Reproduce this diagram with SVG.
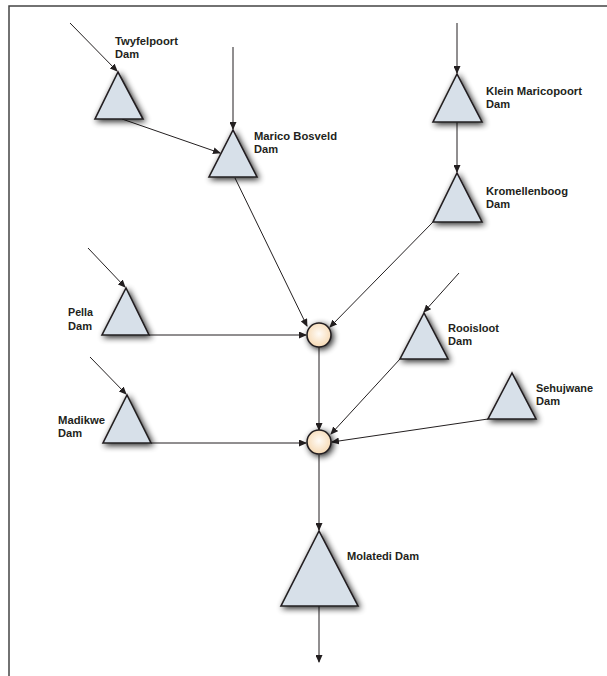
<svg xmlns="http://www.w3.org/2000/svg" width="607" height="676" viewBox="0 0 607 676">
<defs>
<style>
.tri{fill:#d7e0e9;stroke:#231f20;stroke-width:1.6;stroke-linejoin:miter;filter:url(#sh)}
.node{fill:url(#cg);stroke:#231f20;stroke-width:1.6;filter:url(#sh)}
.lbl{font-family:"Liberation Sans",Arial,sans-serif;font-weight:bold;font-size:11.5px;fill:#231f20}
.c{stroke:#231f20;stroke-width:1;fill:none;marker-end:url(#ah)}
.frame{stroke:#444;stroke-width:1.5;fill:none}
</style>
<filter id="sh" x="-40%" y="-40%" width="180%" height="180%">
<feGaussianBlur in="SourceAlpha" stdDeviation="3"/>
<feOffset dx="1.5" dy="2" result="b"/>
<feComponentTransfer><feFuncA type="linear" slope="0.85"/></feComponentTransfer>
<feMerge><feMergeNode/><feMergeNode in="SourceGraphic"/></feMerge>
</filter>
<radialGradient id="cg" cx="50%" cy="45%" r="55%">
<stop offset="0" stop-color="#fffbf6"/>
<stop offset="1" stop-color="#f6d9b3"/>
</radialGradient>
<marker id="ah" markerWidth="8" markerHeight="7" refX="7" refY="3.5" orient="auto" markerUnits="userSpaceOnUse">
<path d="M0,0 L8,3.5 L0,7 Z" fill="#231f20"/>
</marker>
</defs>
<rect width="607" height="676" fill="#fff"/>
<path class="frame" d="M9,676 V6 H607"/>

<g id="connectors">
<line class="c" x1="70" y1="23" x2="117" y2="71"/>
<line class="c" x1="122" y1="119" x2="220" y2="153"/>
<line class="c" x1="233" y1="47" x2="233" y2="129"/>
<line class="c" x1="235" y1="178" x2="307" y2="326"/>
<line class="c" x1="457" y1="23" x2="457" y2="73"/>
<line class="c" x1="457" y1="122" x2="457" y2="172"/>
<line class="c" x1="433" y1="222" x2="330" y2="327"/>
<line class="c" x1="88" y1="248" x2="125" y2="287"/>
<line class="c" x1="149" y1="335" x2="306" y2="335"/>
<line class="c" x1="90" y1="357" x2="126" y2="394"/>
<line class="c" x1="151" y1="443" x2="306" y2="443"/>
<line class="c" x1="319" y1="347" x2="319" y2="430"/>
<line class="c" x1="459" y1="273" x2="424" y2="312"/>
<line class="c" x1="400" y1="359" x2="331" y2="434"/>
<line class="c" x1="488" y1="419" x2="332" y2="442"/>
<line class="c" x1="319" y1="455" x2="319" y2="530"/>
<line class="c" x1="319" y1="606" x2="319" y2="662"/>
</g>

<g id="twyfelpoort"><polygon class="tri" points="118,72 95,119 143,119"/><text class="lbl" x="115" y="44.5" textLength="63" lengthAdjust="spacingAndGlyphs">Twyfelpoort</text><text class="lbl" x="115" y="58" textLength="24" lengthAdjust="spacingAndGlyphs">Dam</text></g>
<g id="marico-bosveld"><polygon class="tri" points="233,130 209,177 257,177"/><text class="lbl" x="254" y="139.5" textLength="83" lengthAdjust="spacingAndGlyphs">Marico Bosveld</text><text class="lbl" x="254" y="152.8" textLength="24" lengthAdjust="spacingAndGlyphs">Dam</text></g>
<g id="klein-maricopoort"><polygon class="tri" points="457,74 433,122 482,122"/><text class="lbl" x="486" y="95" textLength="96" lengthAdjust="spacingAndGlyphs">Klein Maricopoort</text><text class="lbl" x="486" y="108.3" textLength="24" lengthAdjust="spacingAndGlyphs">Dam</text></g>
<g id="kromellenboog"><polygon class="tri" points="457,173 433,222 482,222"/><text class="lbl" x="486" y="195" textLength="82" lengthAdjust="spacingAndGlyphs">Kromellenboog</text><text class="lbl" x="486" y="208.3" textLength="24" lengthAdjust="spacingAndGlyphs">Dam</text></g>
<g id="pella"><polygon class="tri" points="126,288 102,335 149,335"/><text class="lbl" x="68" y="315.8" textLength="25" lengthAdjust="spacingAndGlyphs">Pella</text><text class="lbl" x="68" y="329.5" textLength="24" lengthAdjust="spacingAndGlyphs">Dam</text></g>
<g id="madikwe"><polygon class="tri" points="127,395 103,443 151,443"/><text class="lbl" x="58" y="423.5" textLength="47" lengthAdjust="spacingAndGlyphs">Madikwe</text><text class="lbl" x="58" y="437" textLength="24" lengthAdjust="spacingAndGlyphs">Dam</text></g>
<g id="rooisloot"><polygon class="tri" points="424,313 400,359 448,359"/><text class="lbl" x="448" y="331.8" textLength="51" lengthAdjust="spacingAndGlyphs">Rooisloot</text><text class="lbl" x="448" y="345.4" textLength="24" lengthAdjust="spacingAndGlyphs">Dam</text></g>
<g id="sehujwane"><polygon class="tri" points="512,373 488,419 536,419"/><text class="lbl" x="536" y="391.7" textLength="57" lengthAdjust="spacingAndGlyphs">Sehujwane</text><text class="lbl" x="536" y="405" textLength="24" lengthAdjust="spacingAndGlyphs">Dam</text></g>
<g id="molatedi"><polygon class="tri" points="319,531 281,606 358,606"/><text class="lbl" x="347" y="560" textLength="72" lengthAdjust="spacingAndGlyphs">Molatedi Dam</text></g>
<g id="junction-1"><circle class="node" cx="319" cy="335" r="12"/></g>
<g id="junction-2"><circle class="node" cx="319" cy="442" r="12"/></g>
</svg>
